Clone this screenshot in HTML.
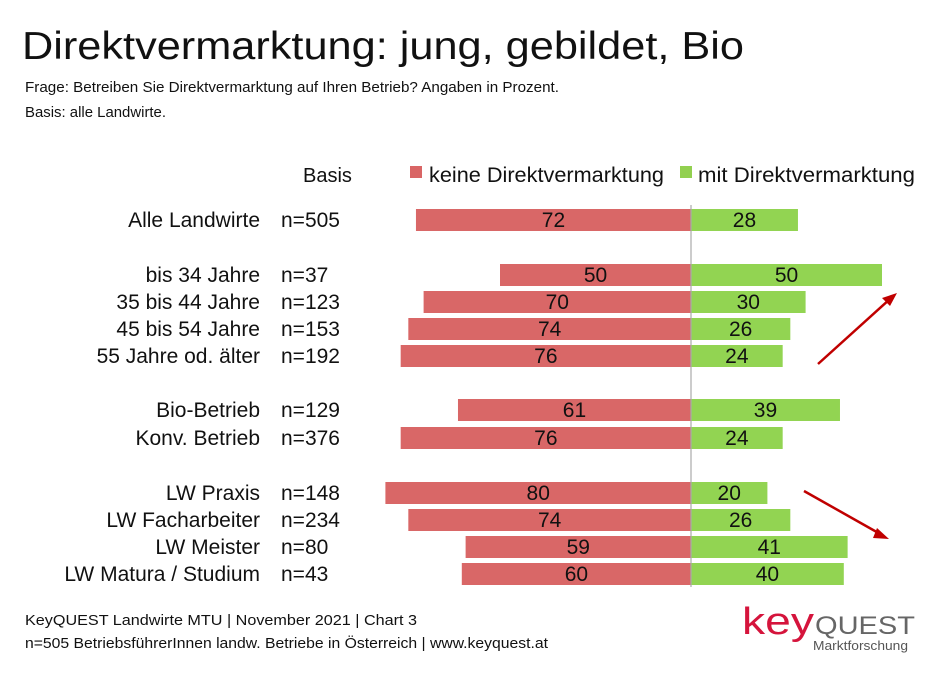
<!DOCTYPE html>
<html><head><meta charset="utf-8"><style>
body{margin:0;background:#fff;}
svg text{font-family:"Liberation Sans","DejaVu Sans",sans-serif;}
</style></head><body>
<svg width="945" height="670" xmlns="http://www.w3.org/2000/svg">
<text x="22" y="59" font-size="39" fill="#111" textLength="722" lengthAdjust="spacingAndGlyphs">Direktvermarktung: jung, gebildet, Bio</text>
<text x="25" y="92" font-size="14.5" fill="#111" textLength="534" lengthAdjust="spacingAndGlyphs">Frage: Betreiben Sie Direktvermarktung auf Ihren Betrieb? Angaben in Prozent.</text>
<text x="25" y="117" font-size="14.5" fill="#111" textLength="141" lengthAdjust="spacingAndGlyphs">Basis: alle Landwirte.</text>
<text x="303" y="182" font-size="20" fill="#111">Basis</text>
<rect x="410" y="166" width="12" height="12" fill="#d96565"/>
<text x="429" y="182" font-size="21" fill="#111" textLength="235" lengthAdjust="spacingAndGlyphs">keine Direktvermarktung</text>
<rect x="680" y="166" width="12" height="12" fill="#92d050"/>
<text x="698" y="182" font-size="21" fill="#111" textLength="217" lengthAdjust="spacingAndGlyphs">mit Direktvermarktung</text>
<g id="bars"></g>
<line x1="691" y1="205" x2="691" y2="587" stroke="#aaa" stroke-width="1.2"/>
<line x1="818" y1="364" x2="891" y2="298" stroke="#c00000" stroke-width="2.5"/>
<polygon points="897,293 882,298 890,306" fill="#c00000"/>
<line x1="804" y1="491" x2="882" y2="535" stroke="#c00000" stroke-width="2.5"/>
<polygon points="889,539 877,528 873,538" fill="#c00000"/>
<text x="25" y="625" font-size="15" fill="#111" textLength="392" lengthAdjust="spacingAndGlyphs">KeyQUEST Landwirte MTU | November 2021 | Chart 3</text>
<text x="25" y="648" font-size="15" fill="#111" textLength="523" lengthAdjust="spacingAndGlyphs">n=505 BetriebsführerInnen landw. Betriebe in Österreich | www.keyquest.at</text>
<text x="742" y="634" font-size="38" fill="#d5143c" textLength="72" lengthAdjust="spacingAndGlyphs">key</text>
<text x="815" y="634" font-size="25" fill="#666" textLength="100" lengthAdjust="spacingAndGlyphs">QUEST</text>
<text x="813" y="650" font-size="12.5" fill="#555" textLength="95" lengthAdjust="spacingAndGlyphs">Marktforschung</text>
</svg>
<script>
const categories=["Alle  Landwirte","bis 34 Jahre","35 bis 44 Jahre","45 bis 54 Jahre","55 Jahre od. älter","Bio-Betrieb","Konv. Betrieb","LW Praxis","LW Facharbeiter","LW Meister","LW Matura / Studium"];
const bases=["n=505","n=37","n=123","n=153","n=192","n=129","n=376","n=148","n=234","n=80","n=43"];
const keine=[72,50,70,74,76,61,76,80,74,59,60];
const mit=[28,50,30,26,24,39,24,20,26,41,40];
const rowY=[220,275,302,329,356,410,438,493,520,547,574];
const cx=691, unit=3.82, bh=22;
const x=v=>v*unit;
const g=document.getElementById('bars');
const NS="http://www.w3.org/2000/svg";
function mk(tag,attrs,txt){const e=document.createElementNS(NS,tag);for(const k in attrs)e.setAttribute(k,attrs[k]);if(txt!=null)e.textContent=txt;g.appendChild(e);return e;}
categories.forEach((c,i)=>{
  const y=rowY[i];
  let t=mk('text',{x:260,y:y+7,'font-size':21,'text-anchor':'end',fill:'#111'},c);
  
  
  t=mk('text',{x:281,y:y+7,'font-size':21,fill:'#111'},bases[i]);
  
  
  let r=mk('rect',{x:cx-x(keine[i]),y:y-bh/2,width:x(keine[i]),height:bh,fill:'#d96767'});
  
  
  r=mk('rect',{x:cx,y:y-bh/2,width:x(mit[i]),height:bh,fill:'#92d452'});
  
  
  t=mk('text',{x:cx-x(keine[i])/2,y:y+7,'font-size':21,'text-anchor':'middle',fill:'#111'},keine[i]);
  
  
  t=mk('text',{x:cx+x(mit[i])/2,y:y+7,'font-size':21,'text-anchor':'middle',fill:'#111'},mit[i]);
  
  
});
</script>
</body></html>
